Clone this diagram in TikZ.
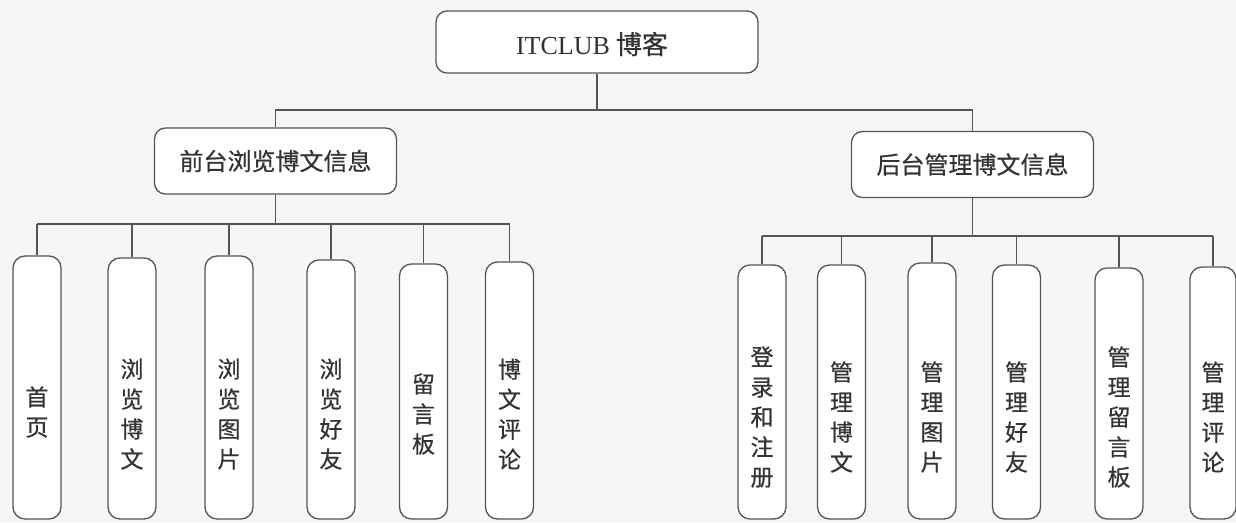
\documentclass[tikz,border=0pt]{standalone}
\usepackage{fontspec}
\setmainfont{Liberation Serif}
\newfontfamily\cjk[FakeBold=0.5]{Noto Sans CJK SC}
\definecolor{bgcol}{HTML}{F6F6F4}
\definecolor{linecol}{HTML}{555555}
\definecolor{txtcol}{HTML}{333333}
\begin{document}
\begin{tikzpicture}[x=1pt,y=-1pt,
  conn/.style={draw=linecol,line width=1.3pt},
  boxbase/.style={draw=linecol,line width=1.3pt,fill=white,rounded corners=11pt,inner sep=0pt},
  rootbox/.style={boxbase,minimum width=322pt,minimum height=62pt},
  midbox/.style={boxbase,minimum width=242pt,minimum height=66pt,text=txtcol,font={\cjk\fontsize{24}{28}\selectfont}},
  childbox/.style={boxbase,minimum width=48pt,rounded corners=12pt},
  vtext/.style={text=txtcol,align=center,inner sep=0pt,font={\cjk\fontsize{23}{30}\selectfont}}]
\fill[bgcol] (0,0) rectangle (1236,522);
\useasboundingbox (0,0) rectangle (1236,522);

% root
\node[rootbox] (root) at (597,42) {};
\node[text=txtcol,inner sep=0pt] (roott) at (592,44) {{\fontsize{26}{30}\selectfont ITCLUB}\hspace{6pt}{\cjk\fontsize{26}{30}\selectfont 博客}};

% middle level
\node[midbox] (mL) at (275.5,161) {前台浏览博文信息};
\node[midbox] (mR) at (972.5,164.5) {后台管理博文信息};

\coordinate (h0) at (597,110);
\draw[conn] (root.south) -- (h0);
\draw[conn] (mL.north) -- (mL.north |- h0) -- (mR.north |- h0) -- (mR.north);

% left children
\node[childbox,minimum height=263pt] (a1) at (37,387.5) {};
\node[childbox,minimum height=261pt] (a2) at (132,388.5) {};
\node[childbox,minimum height=263pt] (a3) at (229,387.5) {};
\node[childbox,minimum height=259pt] (a4) at (331,389.5) {};
\node[childbox,minimum height=255pt] (a5) at (423.5,391.5) {};
\node[childbox,minimum height=257pt] (a6) at (509.5,390.5) {};

\node[vtext] (a1t) at (37,412) {首\\页};
\node[vtext] (a2t) at (132,414) {浏\\览\\博\\文};
\node[vtext] (a3t) at (229,414) {浏\\览\\图\\片};
\node[vtext] (a4t) at (331,414) {浏\\览\\好\\友};
\node[vtext] (a5t) at (423.5,414) {留\\言\\板};
\node[vtext] (a6t) at (509.5,414) {博\\文\\评\\论};

\coordinate (hl) at (275.5,224);
\draw[conn] (mL.south) -- (hl);
\draw[conn] (a1.north |- hl) -- (a6.north |- hl);
\foreach \c in {a1,a2,a3,a4,a5,a6} {\draw[conn] (\c.north |- hl) -- (\c.north);}

% right children
\node[childbox,minimum height=254pt] (b1) at (762,392) {};
\node[childbox,minimum height=254pt] (b2) at (841.5,392) {};
\node[childbox,minimum height=256pt] (b3) at (932,391) {};
\node[childbox,minimum height=254pt] (b4) at (1016.5,392) {};
\node[childbox,minimum height=251pt] (b5) at (1119,393.5) {};
\node[childbox,minimum height=252pt,minimum width=46pt] (b6) at (1213,393) {};

\node[vtext] (b1t) at (762,417) {登\\录\\和\\注\\册};
\node[vtext] (b2t) at (841.5,417) {管\\理\\博\\文};
\node[vtext] (b3t) at (932,417) {管\\理\\图\\片};
\node[vtext] (b4t) at (1016.5,417) {管\\理\\好\\友};
\node[vtext] (b5t) at (1119,417) {管\\理\\留\\言\\板};
\node[vtext] (b6t) at (1213,417) {管\\理\\评\\论};

\coordinate (hr) at (972.5,236);
\draw[conn] (mR.south) -- (hr);
\draw[conn] (b1.north |- hr) -- (b6.north |- hr);
\foreach \c in {b1,b2,b3,b4,b5,b6} {\draw[conn] (\c.north |- hr) -- (\c.north);}
\end{tikzpicture}
\end{document}
